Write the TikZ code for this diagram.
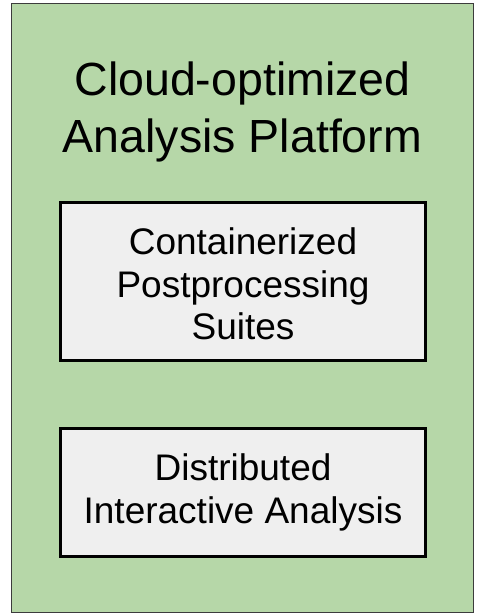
\documentclass[tikz,border=0pt]{standalone}
\usepackage{fontspec}
\setmainfont{Liberation Sans}
\definecolor{platformgreen}{HTML}{B6D7A8}
\definecolor{suitegray}{HTML}{EFEFEF}
\definecolor{frameline}{HTML}{3C3C3C}
\begin{document}
\begin{tikzpicture}[x=1pt,y=-1pt,
  platform/.style={draw=frameline,line width=1.5pt,fill=platformgreen},
  title/.style={align=center,inner sep=0pt,
    font=\fontsize{46.5}{57}\selectfont},
  suite/.style={draw=black,line width=3pt,fill=suitegray,
    minimum width=365pt,align=center,inner sep=0pt,
    font=\fontsize{37}{42.5}\selectfont}]
  \useasboundingbox (0,0) rectangle (479,614);
  % outer platform frame
  \node[platform,minimum width=462pt,minimum height=609pt,inner sep=0pt]
    (platform) at (242.5,308) {};
  \node[title,anchor=base] (titletop) at (242.5,95) {Cloud-optimized};
  \node[title,anchor=base] (titlebot) at (242.5,152) {Analysis Platform};
  % component boxes
  \node[suite,minimum height=158pt] (containers) at (243,281.5)
    {\rule{0pt}{32pt}Containerized\\Postprocessing\\Suites};
  \node[suite,minimum height=128pt] (interactive) at (243,492.5)
    {Distributed\\Interactive Analysis};
\end{tikzpicture}
\end{document}
